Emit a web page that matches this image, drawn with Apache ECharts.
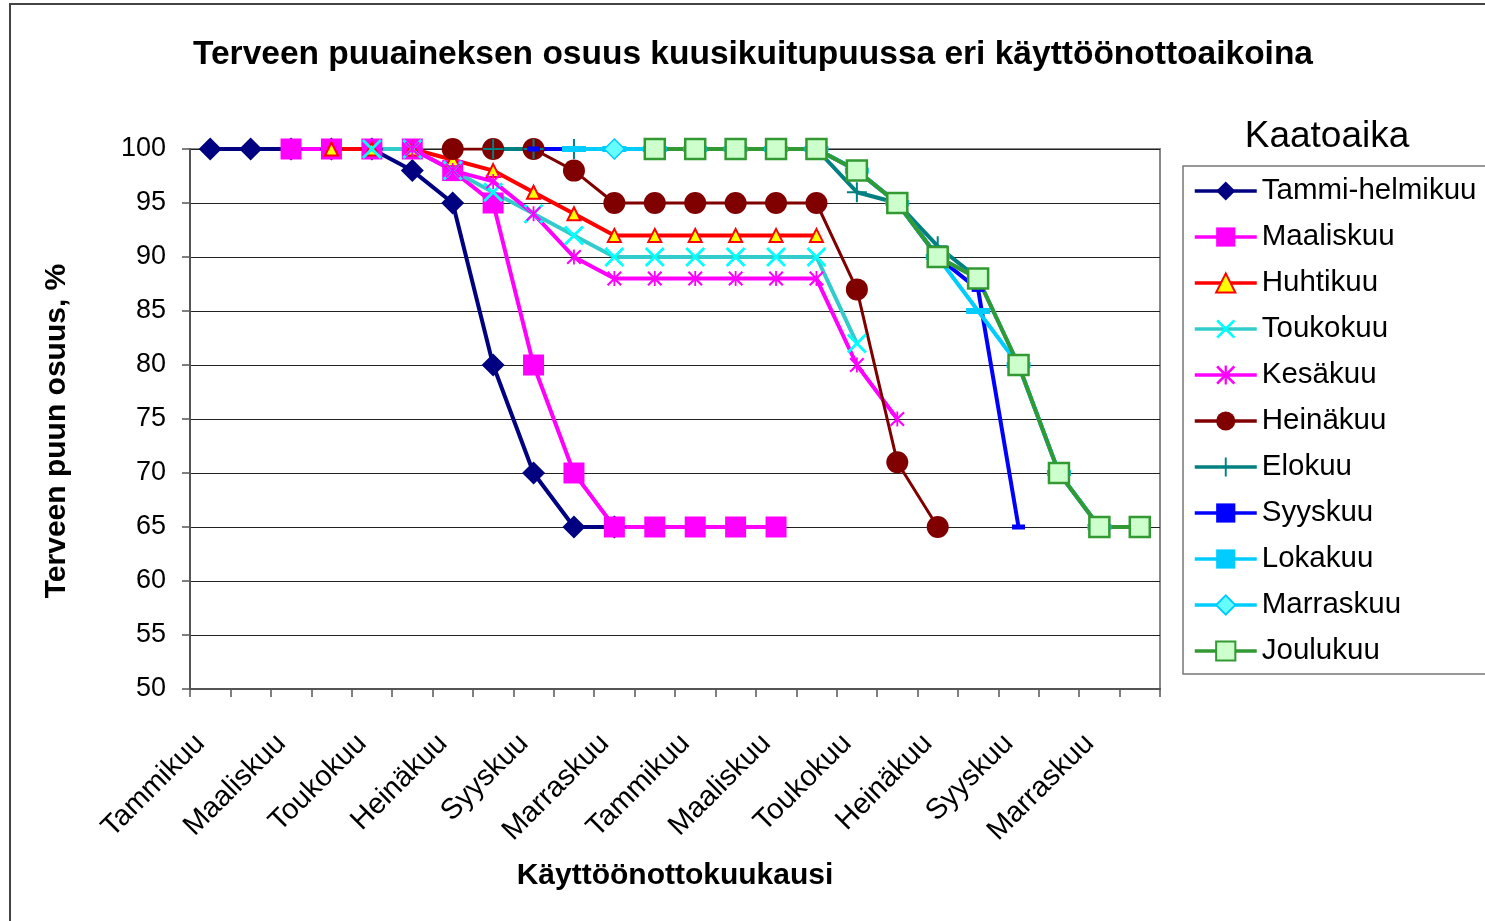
<!DOCTYPE html>
<html>
<head>
<meta charset="utf-8">
<script src="https://cdn.jsdelivr.net/npm/echarts@6/dist/echarts.min.js"></script>
<style>
  html, body { margin: 0; padding: 0; background: #fff; }
  #chart { width: 1485px; height: 921px; }
</style>
</head>
<body>
<div id="chart"></div>
<script>
const months = ['Tammikuu', 'Helmikuu', 'Maaliskuu', 'Huhtikuu', 'Toukokuu', 'Kesäkuu',
  'Heinäkuu', 'Elokuu', 'Syyskuu', 'Lokakuu', 'Marraskuu', 'Joulukuu']
const categories = months.concat(months)
const yTicks = { min: 50, max: 100, step: 5 }

const _ = null
const tammiHelmikuu = [100, 100, 100, 100, 100, 98, 95, 80, 70, 65, 65, _, _, _, _, _, _, _, _, _, _, _, _, _]
const maaliskuu = [_, _, 100, 100, 100, 100, 98, 95, 80, 70, 65, 65, 65, 65, 65, _, _, _, _, _, _, _, _, _]
const huhtikuu = [_, _, _, 100, 100, 100, 99, 98, 96, 94, 92, 92, 92, 92, 92, 92, _, _, _, _, _, _, _, _]
const toukokuu = [_, _, _, _, 100, 100, 98, 96, 94, 92, 90, 90, 90, 90, 90, 90, 82, _, _, _, _, _, _, _]
const kesakuu = [_, _, _, _, _, 100, 98, 97, 94, 90, 88, 88, 88, 88, 88, 88, 80, 75, _, _, _, _, _, _]
const heinakuu = [_, _, _, _, _, _, 100, 100, 100, 98, 95, 95, 95, 95, 95, 95, 87, 71, 65, _, _, _, _, _]
const elokuu = [_, _, _, _, _, _, _, 100, 100, 100, 100, 100, 100, 100, 100, 100, 96, 95, 91, 88, _, _, _, _]
const syyskuu = [_, _, _, _, _, _, _, _, 100, 100, 100, 100, 100, 100, 100, 100, 98, 95, 90, 87, 65, _, _, _]
const lokakuu = [_, _, _, _, _, _, _, _, _, 100, 100, 100, 100, 100, 100, 100, 98, 95, 90, 85, 80, 70, 65, _]
const marraskuu = [_, _, _, _, _, _, _, _, _, _, 100, 100, 100, 100, 100, 100, 98, 95, 90, 88, 80, 70, 65, _]
const joulukuu = [_, _, _, _, _, _, _, _, _, _, _, 100, 100, 100, 100, 100, 98, 95, 90, 88, 80, 70, 65, 65]

const FONT = '"Liberation Sans", Arial, sans-serif'

// marker shapes
const xMark = 'path://M0,1L1,0L5,4L9,0L10,1L6,5L10,9L9,10L5,6L1,10L0,9L4,5Z'
const starMark = 'path://M0,1L1,0L4.4,3.4L4.4,0L5.6,0L5.6,3.4L9,0L10,1L6,5L10,9L9,10L5.6,6.6L5.6,10L4.4,10L4.4,6.6L1,10L0,9L4,5Z'
const plusMark = 'path://M4.5,0H5.5V4.5H10V5.5H5.5V10H4.5V5.5H0V4.5H4.5Z'
const dashMark = 'rect'

const mk = (name, data, line, width, symbol, size, fill, border, bw) => ({
  name: name,
  type: 'line',
  data: data,
  symbol: symbol,
  symbolSize: size,
  connectNulls: false,
  lineStyle: { color: line, width: width },
  itemStyle: { color: fill, borderColor: border || fill, borderWidth: bw || 0 },
  emphasis: { disabled: true },
  animation: false
})

const series = [
  mk('Tammi-helmikuu', tammiHelmikuu, '#000080', 4, 'diamond', 23, '#000080'),
  mk('Maaliskuu', maaliskuu, '#FF00FF', 4, 'rect', 21, '#FF00FF'),
  mk('Huhtikuu', huhtikuu, '#FF0000', 4, 'triangle', 13, '#FFFF00', '#FF0000', 2),
  mk('Toukokuu', toukokuu, '#33CCCC', 4, xMark, 20, '#00FFFF'),
  mk('Kesäkuu', kesakuu, '#FF00FF', 4, starMark, 15, '#FF00FF'),
  mk('Heinäkuu', heinakuu, '#800000', 3, 'circle', 22, '#800000'),
  mk('Elokuu', elokuu, '#008080', 4, plusMark, 20, '#008080'),
  mk('Syyskuu', syyskuu, '#0000FF', 4, dashMark, [13, 5], '#0000FF'),
  mk('Lokakuu', lokakuu, '#00CCFF', 4, dashMark, [24, 6], '#00CCFF'),
  mk('Marraskuu', marraskuu, '#00CCFF', 4, 'diamond', 20, '#66FFFF', '#00CCFF', 1.5),
  mk('Joulukuu', joulukuu, '#339933', 4, 'rect', 20, '#CCFFCC', '#339933', 2.5)
]

const chart = echarts.init(document.getElementById('chart'))
const option = {
  backgroundColor: '#fff',
  animation: false,
  textStyle: { fontFamily: FONT },
  title: [{
    text: 'Terveen puuaineksen osuus kuusikuitupuussa eri käyttöönottoaikoina',
    left: 748,
    top: 33,
    textAlign: 'center',
    textStyle: { fontSize: 33.5, fontWeight: 'bold', color: '#000', fontFamily: FONT }
  }, {
    text: 'Kaatoaika',
    left: 1322,
    top: 113,
    textAlign: 'center',
    textStyle: { fontSize: 37, fontWeight: 'normal', color: '#000', fontFamily: FONT }
  }],
  graphic: [{
    type: 'rect',
    silent: true,
    shape: { x: 10, y: 4, width: 1600, height: 1000 },
    style: { fill: 'none', stroke: '#444', lineWidth: 2 }
  }, {
    type: 'text',
    silent: true,
    x: 57,
    y: 431,
    rotation: Math.PI / 2,
    style: {
      text: 'Terveen puun osuus, %',
      fontSize: 30,
      fontWeight: 'bold',
      fontFamily: FONT,
      fill: '#000',
      align: 'center',
      verticalAlign: 'middle'
    }
  }],
  legend: {
    orient: 'vertical',
    left: 1183,
    top: 166,
    padding: [10, 40, 8, 10],
    itemGap: 16,
    itemWidth: 62,
    itemHeight: 24,
    backgroundColor: '#fff',
    borderColor: '#777',
    borderWidth: 1.5,
    borderRadius: 0,
    lineStyle: { width: 3.5 },
    textStyle: { fontSize: 29.5, color: '#000', fontFamily: FONT, lineHeight: 30 },
    data: series.map(s => s.name)
  },
  grid: {
    left: 190,
    right: 325,
    top: 149,
    bottom: 232,
    show: true,
    borderColor: '#888',
    borderWidth: 2,
    containLabel: false
  },
  xAxis: {
    type: 'category',
    data: categories,
    boundaryGap: true,
    name: 'Käyttöönottokuukausi',
    nameLocation: 'middle',
    nameGap: 172,
    nameTextStyle: { fontSize: 30, fontWeight: 'bold', color: '#000', fontFamily: FONT },
    axisLine: { lineStyle: { color: '#555', width: 2 } },
    axisTick: { show: true, interval: 0, length: 8, lineStyle: { color: '#555', width: 1.5 } },
    axisLabel: { interval: 1, rotate: 45, fontSize: 29, color: '#000', margin: 40, padding: [0, 14, 0, 0], fontFamily: FONT },
    splitLine: { show: false }
  },
  yAxis: {
    type: 'value',
    min: yTicks.min,
    max: yTicks.max,
    interval: yTicks.step,
    axisLine: { show: true, lineStyle: { color: '#555', width: 2 } },
    axisTick: { show: true, length: 8, lineStyle: { color: '#555', width: 1.5 } },
    axisLabel: { fontSize: 27, color: '#000', margin: 24, fontFamily: FONT },
    splitLine: { show: true, lineStyle: { color: '#222', width: 1.2 } }
  },
  series: series
}
chart.setOption(option)
</script>
</body>
</html>
